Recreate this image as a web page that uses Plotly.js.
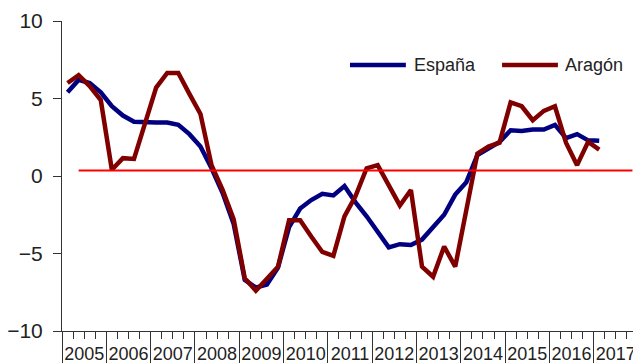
<!DOCTYPE html>
<html>
<head>
<meta charset="utf-8">
<script src="https://cdn.plot.ly/plotly-3.0.1.min.js"></script>
<style>
html,body{margin:0;padding:0;overflow:hidden;background:#fff;width:633px;height:363px;}
#chart{width:648px;height:363px;}
</style>
</head>
<body>
<div id="chart"></div>
<script>
// Quarterly periods (2005 T1 .. 2017 T1)
const quarters = [
 "2005-T1","2005-T2","2005-T3","2005-T4",
 "2006-T1","2006-T2","2006-T3","2006-T4",
 "2007-T1","2007-T2","2007-T3","2007-T4",
 "2008-T1","2008-T2","2008-T3","2008-T4",
 "2009-T1","2009-T2","2009-T3","2009-T4",
 "2010-T1","2010-T2","2010-T3","2010-T4",
 "2011-T1","2011-T2","2011-T3","2011-T4",
 "2012-T1","2012-T2","2012-T3","2012-T4",
 "2013-T1","2013-T2","2013-T3","2013-T4",
 "2014-T1","2014-T2","2014-T3","2014-T4",
 "2015-T1","2015-T2","2015-T3","2015-T4",
 "2016-T1","2016-T2","2016-T3","2016-T4",
 "2017-T1"
];
const espana = [
 5.4, 6.2, 6.0, 5.4,
 4.5, 3.9, 3.5, 3.45,
 3.45, 3.45, 3.3, 2.7,
 1.9, 0.5, -1.1, -3.1,
 -6.7, -7.2, -7.0, -5.9,
 -3.3, -2.1, -1.55, -1.15,
 -1.25, -0.65, -1.7, -2.6,
 -3.6, -4.6, -4.4, -4.45,
 -4.1, -3.3, -2.5, -1.2,
 -0.4, 1.35, 1.8, 2.2,
 2.95, 2.9, 3.0, 3.0,
 3.3, 2.45, 2.7, 2.3,
 2.27
];
const aragon = [
 6.0, 6.5, 5.8, 4.9,
 0.4, 1.15, 1.1, 3.5,
 5.7, 6.65, 6.65, 5.3,
 4.0, 0.7, -0.9, -2.8,
 -6.6, -7.4, -6.6, -5.85,
 -2.85, -2.85, -3.9, -4.9,
 -5.15, -2.6, -1.3, 0.5,
 0.7, -0.6, -1.9, -0.9,
 -5.85, -6.5, -4.55, -5.85,
 -2.1, 1.45, 1.9, 2.15,
 4.75, 4.5, 3.6, 4.2,
 4.5, 2.15, 0.7, 2.2,
 1.7
];
// Reference level line (from 2005-T2 to 2017-T4)
const refPeriods = ["2005-T2", "2017-T4"];
const refValues = [0.35, 0.35];
const yearLabels = ["2005","2006","2007","2008","2009","2010","2011","2012","2013","2014","2015","2016","2017"];
const seriesNames = ["España", "Aragón"];

function qpos(label){
  const p = label.split("-T");
  return Number(p[0]) + (Number(p[1]) - 0.5) / 4;
}
const xq = quarters.map(qpos);
const yearCenters = yearLabels.map(y => Number(y) + 0.5);

const FONT = "Arial, 'Liberation Sans', sans-serif";
const AX = "#333333";

const traces = [
  {x: xq, y: espana, name: seriesNames[0], type: "scatter", mode: "lines",
   line: {color: "#000080", width: 4.5}, showlegend: false, hoverinfo: "skip"},
  {x: xq, y: aragon, name: seriesNames[1], type: "scatter", mode: "lines",
   line: {color: "#800000", width: 4.5}, showlegend: false, hoverinfo: "skip"},
  {x: refPeriods.map(qpos), y: refValues, name: "ref", type: "scatter", mode: "lines",
   xaxis: "x2", line: {color: "#ff0000", width: 2}, showlegend: false, hoverinfo: "skip"}
];

const legY = 0.858;
const layout = {
  width: 648, height: 363,
  margin: {l: 62, r: 10, t: 21, b: 32},
  paper_bgcolor: "#fff", plot_bgcolor: "#fff",
  font: {family: FONT, color: "#222", size: 18},
  showlegend: false,
  xaxis: {
    range: [2005, 2018], showgrid: false, zeroline: false,
    showline: true, linecolor: AX, linewidth: 1,
    tickmode: "linear", tick0: 2005, dtick: 1,
    ticks: "outside", ticklen: 33, tickcolor: AX, tickwidth: 1,
    showticklabels: false,
    minor: {ticks: "outside", tick0: 2005, dtick: 0.25, ticklen: 7, tickcolor: AX, tickwidth: 1, showgrid: false}
  },
  xaxis2: {
    overlaying: "x", anchor: "y", side: "bottom",
    range: [2005, 2018], showgrid: false, zeroline: false, showline: false,
    tickmode: "array", tickvals: yearCenters, ticktext: yearLabels,
    ticks: "", ticklen: 0, ticklabelstandoff: 10,
    tickfont: {size: 18, color: "#222", family: FONT}
  },
  yaxis: {
    range: [-10, 10], showgrid: false, zeroline: false,
    showline: true, linecolor: AX, linewidth: 1,
    tickmode: "array", tickvals: [-10, -5, 0, 5, 10],
    ticks: "outside", ticklen: 8, tickcolor: AX,
    tickfont: {size: 21, color: "#222", family: FONT},
    ticklabelstandoff: 6
  },
  shapes: [
    {type: "line", xref: "paper", yref: "paper", x0: 0.5, x1: 0.597, y0: legY, y1: legY,
     line: {color: "#000080", width: 4.5}},
    {type: "line", xref: "paper", yref: "paper", x0: 0.764, x1: 0.861, y0: legY, y1: legY,
     line: {color: "#800000", width: 4.5}}
  ],
  annotations: [
    {xref: "paper", yref: "paper", x: 0.6076, y: legY, xanchor: "left", yanchor: "middle",
     text: seriesNames[0], showarrow: false, font: {size: 18, color: "#222", family: FONT}},
    {xref: "paper", yref: "paper", x: 0.8698, y: legY, xanchor: "left", yanchor: "middle",
     text: seriesNames[1], showarrow: false, font: {size: 18, color: "#222", family: FONT}}
  ]
};

Plotly.newPlot("chart", traces, layout, {staticPlot: true, displayModeBar: false});
</script>
</body>
</html>
